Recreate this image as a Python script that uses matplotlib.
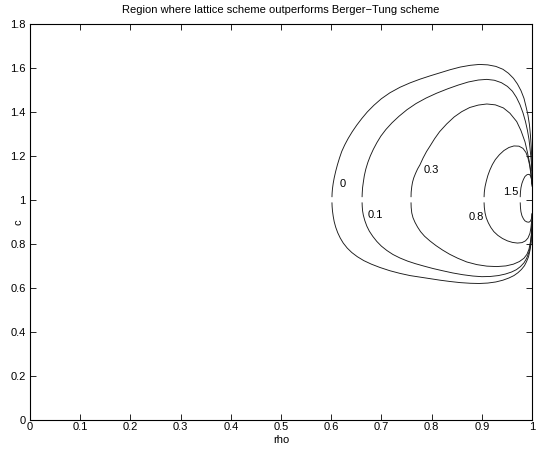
import matplotlib
matplotlib.use("Agg")
import matplotlib.pyplot as plt

plt.rcParams['font.family'] = ['Liberation Sans', 'DejaVu Sans']

# Contour levels and their traced curves (rho, c), split into upper and lower halves
levels = ["0", "0.1", "0.3", "0.8", "1.5"]

c0_up_rho = [0.6015, 0.6018, 0.6025, 0.604, 0.606, 0.609, 0.6125, 0.6165, 0.621, 0.627, 0.634, 0.642, 0.651, 0.661, 0.672, 0.685, 0.700, 0.717, 0.737, 0.757, 0.777, 0.797, 0.817, 0.837, 0.857, 0.877, 0.895, 0.912, 0.928, 0.942, 0.953, 0.963, 0.971, 0.978, 0.984, 0.988, 0.992, 0.995, 0.997, 0.9985, 0.9995, 1.0]
c0_up_c = [1.012, 1.03, 1.05, 1.075, 1.10, 1.13, 1.16, 1.19, 1.22, 1.25, 1.28, 1.31, 1.34, 1.37, 1.40, 1.43, 1.46, 1.487, 1.512, 1.532, 1.549, 1.564, 1.578, 1.592, 1.604, 1.612, 1.616, 1.614, 1.607, 1.594, 1.576, 1.553, 1.527, 1.497, 1.462, 1.425, 1.385, 1.34, 1.29, 1.24, 1.19, 1.13]
c0_lo_rho = [0.6015, 0.6018, 0.6025, 0.604, 0.606, 0.609, 0.613, 0.618, 0.624, 0.632, 0.641, 0.652, 0.665, 0.680, 0.697, 0.717, 0.737, 0.757, 0.777, 0.797, 0.817, 0.837, 0.857, 0.877, 0.895, 0.912, 0.928, 0.942, 0.954, 0.964, 0.972, 0.979, 0.985, 0.989, 0.993, 0.996, 0.998, 0.9993, 1.0]
c0_lo_c = [0.988, 0.97, 0.95, 0.925, 0.90, 0.875, 0.85, 0.826, 0.803, 0.78, 0.76, 0.741, 0.723, 0.707, 0.692, 0.677, 0.665, 0.655, 0.648, 0.641, 0.634, 0.628, 0.623, 0.620, 0.619, 0.621, 0.626, 0.634, 0.644, 0.655, 0.668, 0.683, 0.70, 0.718, 0.74, 0.77, 0.80, 0.84, 0.88]

c01_up_rho = [0.6615, 0.6618, 0.6625, 0.664, 0.666, 0.669, 0.673, 0.678, 0.684, 0.691, 0.699, 0.709, 0.721, 0.735, 0.751, 0.769, 0.789, 0.810, 0.832, 0.853, 0.873, 0.893, 0.910, 0.925, 0.939, 0.951, 0.961, 0.969, 0.976, 0.982, 0.987, 0.991, 0.994, 0.996, 0.998, 0.9993, 1.0]
c01_up_c = [1.012, 1.03, 1.055, 1.08, 1.11, 1.14, 1.17, 1.20, 1.23, 1.26, 1.29, 1.32, 1.35, 1.38, 1.41, 1.438, 1.463, 1.485, 1.505, 1.522, 1.536, 1.545, 1.548, 1.544, 1.533, 1.516, 1.494, 1.466, 1.433, 1.396, 1.356, 1.315, 1.275, 1.235, 1.19, 1.15, 1.10]
c01_lo_rho = [0.6615, 0.6618, 0.6625, 0.664, 0.667, 0.671, 0.676, 0.683, 0.691, 0.700, 0.711, 0.723, 0.737, 0.752, 0.768, 0.785, 0.803, 0.822, 0.842, 0.862, 0.882, 0.900, 0.917, 0.933, 0.947, 0.959, 0.969, 0.977, 0.984, 0.989, 0.993, 0.996, 0.998, 0.9993, 1.0]
c01_lo_c = [0.988, 0.97, 0.95, 0.93, 0.905, 0.88, 0.857, 0.833, 0.81, 0.789, 0.769, 0.751, 0.735, 0.721, 0.709, 0.698, 0.687, 0.677, 0.667, 0.659, 0.653, 0.650, 0.651, 0.655, 0.662, 0.671, 0.682, 0.696, 0.713, 0.732, 0.755, 0.78, 0.81, 0.85, 0.89]

c03_up_rho = [0.759, 0.7593, 0.7605, 0.762, 0.7645, 0.768, 0.772, 0.777, 0.783, 0.790, 0.797, 0.806, 0.816, 0.830, 0.845, 0.860, 0.876, 0.893, 0.910, 0.927, 0.943, 0.956, 0.9695, 0.978, 0.986, 0.991, 0.996, 0.998, 1.0]
c03_up_c = [1.012, 1.035, 1.06, 1.08, 1.10, 1.12, 1.14, 1.16, 1.19, 1.22, 1.245, 1.278, 1.31, 1.345, 1.377, 1.401, 1.42, 1.431, 1.436, 1.432, 1.418, 1.394, 1.356, 1.315, 1.264, 1.215, 1.158, 1.12, 1.07]
c03_lo_rho = [0.759, 0.7593, 0.7605, 0.763, 0.767, 0.772, 0.778, 0.786, 0.797, 0.809, 0.822, 0.836, 0.852, 0.870, 0.890, 0.910, 0.930, 0.948, 0.963, 0.975, 0.984, 0.990, 0.994, 0.997, 0.999, 1.0]
c03_lo_c = [0.988, 0.965, 0.94, 0.918, 0.897, 0.876, 0.855, 0.834, 0.812, 0.791, 0.771, 0.752, 0.734, 0.717, 0.705, 0.698, 0.696, 0.699, 0.707, 0.719, 0.734, 0.752, 0.775, 0.81, 0.85, 0.90]

c08_up_rho = [0.9045, 0.905, 0.9065, 0.909, 0.912, 0.916, 0.921, 0.927, 0.935, 0.944, 0.954, 0.964, 0.974, 0.982, 0.988, 0.992, 0.995, 0.997, 0.999, 1.0]
c08_up_c = [1.012, 1.035, 1.06, 1.085, 1.11, 1.135, 1.16, 1.183, 1.205, 1.224, 1.238, 1.245, 1.244, 1.234, 1.215, 1.19, 1.16, 1.13, 1.09, 1.06]
c08_lo_rho = [0.9045, 0.905, 0.9065, 0.909, 0.913, 0.918, 0.924, 0.932, 0.941, 0.951, 0.961, 0.971, 0.980, 0.987, 0.992, 0.996, 0.998, 0.9995, 1.0]
c08_lo_c = [0.988, 0.965, 0.94, 0.917, 0.895, 0.874, 0.855, 0.838, 0.824, 0.813, 0.806, 0.803, 0.805, 0.813, 0.826, 0.848, 0.875, 0.91, 0.94]

c15_up_rho = [0.9765, 0.977, 0.978, 0.980, 0.983, 0.986, 0.990, 0.994, 0.997, 0.999, 1.0]
c15_up_c = [1.012, 1.035, 1.055, 1.075, 1.093, 1.106, 1.114, 1.116, 1.11, 1.095, 1.07]
c15_lo_rho = [0.9765, 0.977, 0.978, 0.980, 0.983, 0.986, 0.990, 0.994, 0.997, 0.999, 1.0]
c15_lo_c = [0.988, 0.965, 0.945, 0.927, 0.913, 0.904, 0.899, 0.898, 0.903, 0.915, 0.935]

# label anchor positions (rho, c)
label_rho = [0.623, 0.687, 0.800, 0.890, 0.9575]
label_c = [1.074, 0.931, 1.136, 0.923, 1.034]

x_ticks = [0, 0.1, 0.2, 0.3, 0.4, 0.5, 0.6, 0.7, 0.8, 0.9, 1]
x_tick_labels = ["0", "0.1", "0.2", "0.3", "0.4", "0.5", "0.6", "0.7", "0.8", "0.9", "1"]
y_ticks = [0, 0.2, 0.4, 0.6, 0.8, 1.0, 1.2, 1.4, 1.6, 1.8]
y_tick_labels = ["0", "0.2", "0.4", "0.6", "0.8", "1", "1.2", "1.4", "1.6", "1.8"]

fig = plt.figure(figsize=(5.4, 4.5), dpi=100)
ax = fig.add_axes([30 / 540, 1 - 419.5 / 450, 502 / 540, 395.5 / 450])

curves = [
    (c0_up_rho, c0_up_c), (c0_lo_rho, c0_lo_c),
    (c01_up_rho, c01_up_c), (c01_lo_rho, c01_lo_c),
    (c03_up_rho, c03_up_c), (c03_lo_rho, c03_lo_c),
    (c08_up_rho, c08_up_c), (c08_lo_rho, c08_lo_c),
    (c15_up_rho, c15_up_c), (c15_lo_rho, c15_lo_c),
]
for xs, ys in curves:
    ax.plot(xs, ys, color='#1a1a1a', lw=0.65, solid_joinstyle='round',
            solid_capstyle='butt')

for lab, lx, ly in zip(levels, label_rho, label_c):
    ax.text(lx, ly, lab, fontsize=8, ha='center', va='center')

ax.set_xlim(0, 1)
ax.set_ylim(0, 1.8)
ax.set_xticks(x_ticks)
ax.set_xticklabels(x_tick_labels)
ax.set_yticks(y_ticks)
ax.set_yticklabels(y_tick_labels)
ax.tick_params(direction='in', length=4, width=0.6, top=True, right=True,
               labelsize=8, pad=3, colors='black')
ax.tick_params(axis='x', pad=2)
for s in ax.spines.values():
    s.set_linewidth(0.8)
    s.set_color('black')

ax.set_xlabel("rho", fontsize=8)
ax.set_ylabel("c", fontsize=8)
ax.xaxis.set_label_coords(0.5, -0.040)
ax.yaxis.set_label_coords(-0.012, 0.499)
ax.set_title("Region where lattice scheme outperforms Berger\u2212Tung scheme",
             fontsize=8, pad=8)

fig.savefig("out.png", dpi=100)
